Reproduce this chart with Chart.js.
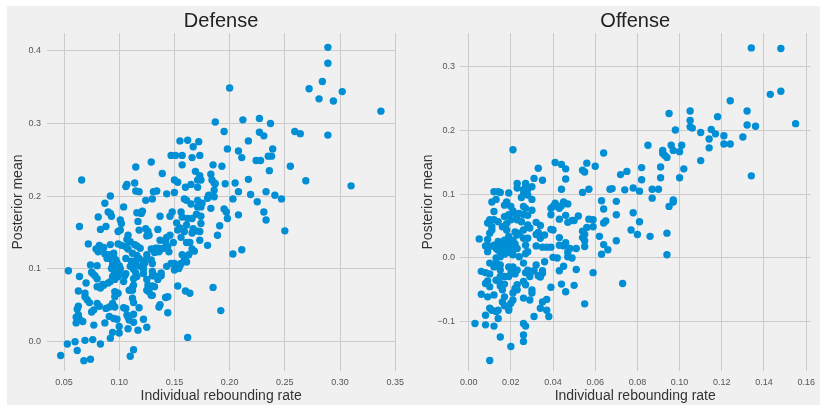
<!DOCTYPE html>
<html>
<head>
<meta charset="utf-8">
<script src="https://cdn.jsdelivr.net/npm/chart.js@4"></script>
<style>
  html, body { margin: 0; padding: 0; background: #ffffff; }
  body { width: 821px; height: 406px; position: relative; overflow: hidden; }
  #bg { position: absolute; left: 7px; top: 6px; width: 813px; height: 399px; background: #f0f0f0; }
  .panel { position: absolute; top: 0; height: 406px; }
  #leftPanel { left: 0; width: 410px; }
  #rightPanel { left: 410px; width: 411px; }
  canvas { display: block; }
</style>
</head>
<body>
<div id="bg"></div>
<div class="panel" id="leftPanel"><canvas id="defense" width="410" height="406"></canvas></div>
<div class="panel" id="rightPanel"><canvas id="offense" width="411" height="406"></canvas></div>
<script>
// Defensive rebounding: individual rate vs posterior mean, one point per player
const defenseRate = [
  0.289,0.289,0.284,0.272,0.281,0.294,0.302,0.337,0.289,0.259,
  0.264,0.255,0.269,0.310,0.247,0.250,0.200,0.187,0.212,0.227,
  0.237,0.195,0.227,0.231,0.217,0.239,0.198,0.208,0.211,0.235,
  0.238,0.224,0.228,0.236,0.193,0.217,0.205,0.186,0.196,0.208,
  0.233,0.241,0.219,0.203,0.225,0.231,0.233,0.208,0.198,0.191,
  0.189,0.203,0.211,0.185,0.192,0.162,0.155,0.172,0.167,0.147,
  0.151,0.157,0.173,0.166,0.157,0.185,0.169,0.173,0.183,0.150,
  0.153,0.171,0.174,0.184,0.187,0.165,0.160,0.171,0.186,0.150,
  0.181,0.180,0.186,0.159,0.161,0.171,0.165,0.175,0.171,0.174,
  0.183,0.195,0.197,0.156,0.148,0.170,0.174,0.157,0.166,0.162,
  0.146,0.152,0.161,0.174,0.167,0.170,0.173,0.155,0.153,0.159,
  0.166,0.146,0.156,0.149,0.161,0.164,0.173,0.180,0.166,0.168,
  0.143,0.142,0.144,0.137,0.135,0.140,0.145,0.157,0.160,0.163,
  0.159,0.161,0.156,0.150,0.147,0.143,0.155,0.154,0.150,0.153,
  0.160,0.164,0.142,0.144,0.136,0.137,0.144,0.162,0.129,0.115,
  0.139,0.114,0.107,0.106,0.115,0.118,0.131,0.134,0.143,0.124,
  0.130,0.104,0.121,0.116,0.120,0.137,0.117,0.101,0.102,0.101,
  0.099,0.118,0.124,0.126,0.125,0.127,0.135,0.108,0.107,0.110,
  0.114,0.116,0.119,0.106,0.108,0.102,0.099,0.092,0.133,0.138,
  0.129,0.136,0.132,0.112,0.116,0.125,0.118,0.122,0.124,0.129,
  0.130,0.123,0.106,0.111,0.114,0.115,0.119,0.110,0.113,0.122,
  0.115,0.122,0.130,0.138,0.138,0.130,0.132,0.135,0.125,0.113,
  0.116,0.106,0.105,0.104,0.113,0.112,0.126,0.130,0.132,0.125,
  0.127,0.109,0.112,0.129,0.130,0.112,0.113,0.104,0.106,0.118,
  0.107,0.113,0.108,0.122,0.109,0.113,0.125,0.117,0.108,0.100,
  0.100,0.113,0.110,0.066,0.092,0.087,0.090,0.092,0.093,0.081,
  0.088,0.064,0.083,0.072,0.082,0.079,0.081,0.083,0.086,0.081,
  0.087,0.091,0.095,0.095,0.089,0.097,0.074,0.080,0.094,0.098,
  0.100,0.093,0.095,0.100,0.098,0.094,0.096,0.099,0.054,0.075,
  0.076,0.078,0.080,0.064,0.090,0.092,0.085,0.080,0.083,0.086,
  0.070,0.096,0.099,0.096,0.069,0.063,0.069,0.071,0.073,0.080,
  0.082,0.094,0.091,0.096,0.063,0.062,0.077,0.075,0.088,0.063,
  0.061,0.064,0.067,0.061,0.077,0.087,0.091,0.095,0.098,0.094,
  0.092,0.069,0.076,0.060,0.053,0.083,0.062,0.047,0.068,0.074,
  0.097,0.099,0.096,0.101,0.098,0.094
];
const defenseMean = [
  0.405,0.383,0.358,0.348,0.334,0.331,0.344,0.317,0.284,0.289,
  0.286,0.241,0.221,0.214,0.196,0.152,0.349,0.302,0.305,0.307,
  0.300,0.289,0.288,0.283,0.276,0.265,0.265,0.262,0.253,0.255,
  0.255,0.249,0.249,0.235,0.241,0.223,0.218,0.218,0.217,0.206,
  0.206,0.201,0.202,0.196,0.192,0.178,0.167,0.174,0.169,0.159,
  0.146,0.120,0.126,0.074,0.042,0.277,0.276,0.275,0.268,0.256,
  0.256,0.256,0.256,0.253,0.243,0.243,0.234,0.228,0.230,0.222,
  0.219,0.222,0.222,0.222,0.217,0.216,0.212,0.212,0.208,0.205,
  0.201,0.197,0.199,0.196,0.194,0.194,0.189,0.190,0.185,0.185,
  0.183,0.182,0.178,0.178,0.178,0.175,0.172,0.171,0.169,0.169,
  0.172,0.163,0.160,0.162,0.155,0.152,0.151,0.156,0.153,0.151,
  0.149,0.146,0.143,0.136,0.136,0.136,0.139,0.132,0.127,0.124,
  0.143,0.137,0.130,0.139,0.128,0.128,0.123,0.119,0.116,0.119,
  0.111,0.109,0.107,0.107,0.107,0.103,0.104,0.100,0.098,0.076,
  0.069,0.066,0.060,0.061,0.047,0.050,0.039,0.005,0.247,0.240,
  0.231,0.218,0.216,0.213,0.207,0.206,0.206,0.207,0.203,0.194,
  0.196,0.185,0.179,0.177,0.176,0.172,0.165,0.167,0.162,0.153,
  0.151,0.153,0.155,0.151,0.145,0.146,0.154,0.146,0.140,0.137,
  0.133,0.131,0.128,0.130,0.127,0.132,0.134,0.133,0.128,0.127,
  0.127,0.123,0.122,0.121,0.118,0.119,0.114,0.109,0.112,0.112,
  0.107,0.107,0.114,0.110,0.107,0.110,0.103,0.103,0.099,0.099,
  0.094,0.093,0.096,0.094,0.090,0.090,0.090,0.085,0.085,0.086,
  0.089,0.093,0.090,0.082,0.077,0.074,0.077,0.076,0.075,0.070,
  0.068,0.070,0.070,0.063,0.063,0.059,0.053,0.046,0.045,0.046,
  0.036,0.037,0.033,0.030,0.029,0.026,0.019,0.015,0.017,0.020,
  0.011,-0.012,-0.021,0.222,0.200,0.190,0.178,0.176,0.172,0.171,
  0.158,0.158,0.154,0.134,0.132,0.127,0.128,0.130,0.129,0.123,
  0.120,0.119,0.121,0.116,0.114,0.112,0.105,0.104,0.105,0.103,
  0.104,0.100,0.098,0.097,0.092,0.089,0.085,0.089,0.097,0.095,
  0.093,0.090,0.086,0.089,0.080,0.082,0.078,0.075,0.073,0.077,
  0.080,0.068,0.066,0.061,0.066,0.069,0.061,0.057,0.053,0.052,
  0.048,0.052,0.047,0.047,0.048,0.044,0.043,0.040,0.045,0.036,
  0.033,0.030,0.027,0.025,0.022,0.025,0.034,0.031,0.030,0.012,
  0.004,0.001,0.002,-0.001,-0.004,-0.004,-0.013,-0.020,-0.027,-0.025,
  0.100,0.095,0.093,0.100,0.108,0.110
];

// Offensive rebounding: individual rate vs posterior mean, one point per player
const offenseRate = [
  0.134,0.148,0.148,0.143,0.124,0.155,0.136,0.132,0.132,0.134,
  0.130,0.121,0.121,0.124,0.118,0.115,0.117,0.114,0.114,0.110,
  0.110,0.105,0.105,0.105,0.106,0.095,0.098,0.096,0.101,0.097,
  0.100,0.092,0.092,0.093,0.094,0.102,0.100,0.091,0.091,0.085,
  0.082,0.082,0.087,0.090,0.087,0.081,0.078,0.075,0.072,0.074,
  0.068,0.067,0.070,0.070,0.078,0.081,0.077,0.080,0.086,0.097,
  0.097,0.095,0.094,0.094,0.073,0.070,0.064,0.060,0.063,0.064,
  0.064,0.065,0.062,0.064,0.063,0.066,0.059,0.055,0.056,0.054,
  0.055,0.054,0.057,0.057,0.059,0.056,0.059,0.054,0.055,0.054,
  0.055,0.055,0.052,0.050,0.051,0.051,0.050,0.041,0.044,0.046,
  0.046,0.044,0.041,0.041,0.043,0.040,0.039,0.045,0.047,0.044,
  0.039,0.043,0.046,0.047,0.049,0.039,0.040,0.043,0.043,0.045,
  0.046,0.048,0.047,0.047,0.049,0.040,0.042,0.043,0.045,0.044,
  0.046,0.039,0.037,0.035,0.039,0.033,0.031,0.035,0.030,0.030,
  0.030,0.032,0.034,0.033,0.032,0.034,0.036,0.034,0.032,0.032,
  0.031,0.033,0.034,0.035,0.035,0.036,0.035,0.034,0.037,0.037,
  0.038,0.031,0.027,0.027,0.026,0.028,0.026,0.028,0.025,0.026,
  0.027,0.024,0.026,0.028,0.023,0.025,0.028,0.029,0.026,0.024,
  0.026,0.028,0.027,0.028,0.027,0.024,0.026,0.028,0.030,0.027,
  0.029,0.026,0.027,0.030,0.030,0.026,0.029,0.023,0.026,0.027,
  0.026,0.026,0.020,0.023,0.023,0.021,0.019,0.018,0.017,0.020,
  0.021,0.022,0.019,0.020,0.017,0.018,0.016,0.018,0.022,0.023,
  0.019,0.017,0.021,0.018,0.022,0.015,0.019,0.018,0.017,0.019,
  0.020,0.017,0.015,0.021,0.023,0.014,0.013,0.014,0.012,0.010,
  0.009,0.013,0.013,0.015,0.019,0.021,0.020,0.019,0.022,0.023,
  0.017,0.015,0.015,0.017,0.023,0.022,0.021,0.016,0.017,0.016,
  0.021,0.020,0.019,0.017,0.019,0.014,0.013,0.011,0.010,0.014,
  0.012,0.008,0.015,0.003,0.010,0.008,0.012,0.014,0.015,0.013,
  0.011,0.012,0.010,0.012,0.014,0.011,0.009,0.010,0.011,0.005,
  0.009,0.008,0.010,0.012,0.006,0.008,0.010,0.009,0.008,0.010,
  0.006,0.009,0.012,0.013,0.015,0.015,
  0.018,0.020,0.016,0.019,0.021
];
const offenseMean = [
  0.330,0.329,0.262,0.257,0.247,0.211,0.207,0.231,0.209,0.129,
  0.190,0.192,0.179,0.179,0.222,0.202,0.195,0.187,0.173,0.197,
  0.153,0.231,0.216,0.206,0.204,0.227,0.201,0.177,0.177,0.169,
  0.167,0.169,0.164,0.161,0.158,0.140,0.126,0.143,0.126,0.177,
  0.142,0.123,0.108,0.108,0.094,0.105,0.110,0.136,0.131,0.107,
  0.109,0.108,0.089,0.068,0.071,0.057,0.044,0.037,0.034,0.091,
  0.088,0.081,0.039,0.005,-0.040,0.027,0.165,0.144,0.090,0.077,
  0.055,0.058,0.034,0.021,0.006,0.013,-0.023,-0.072,0.149,0.138,
  0.135,0.103,0.108,0.061,0.060,0.048,0.049,0.042,0.037,0.032,
  0.027,0.018,0.066,0.059,0.015,-0.018,-0.043,0.150,0.147,0.140,
  0.124,0.108,0.086,0.082,0.078,0.081,0.078,0.088,0.085,0.082,
  0.068,0.061,0.067,0.056,0.059,0.045,0.044,0.032,0.020,0.019,
  0.024,0.015,0.009,0.002,0.000,0.001,0.000,-0.020,-0.013,-0.041,
  -0.053,-0.046,0.017,0.017,0.017,0.141,0.125,0.122,0.112,0.092,
  0.075,0.056,0.051,0.040,0.037,0.034,0.036,0.031,0.019,-0.011,
  -0.020,-0.028,-0.030,-0.020,-0.024,-0.006,-0.069,-0.079,-0.065,-0.082,
  -0.092,-0.092,0.117,0.112,0.107,0.108,0.100,0.099,0.095,0.081,
  0.078,0.070,0.068,0.067,0.060,0.057,0.052,0.047,0.044,0.039,
  0.031,0.031,0.020,0.010,0.007,0.002,-0.008,-0.019,-0.021,-0.023,
  -0.029,-0.037,-0.042,-0.050,-0.055,-0.063,-0.066,-0.050,-0.103,-0.107,
  -0.121,-0.131,-0.139,0.117,0.110,0.170,0.102,0.088,0.083,0.081,
  0.074,0.070,0.068,0.060,0.065,0.054,0.049,0.044,0.041,0.036,
  0.034,0.028,0.028,0.023,0.022,0.020,0.018,0.015,0.012,0.010,
  0.008,0.006,0.002,0.005,0.015,0.012,0.015,0.026,0.020,0.018,
  0.010,0.000,-0.008,-0.011,-0.014,-0.014,-0.024,-0.029,-0.025,-0.019,
  -0.029,-0.040,-0.044,-0.041,-0.042,-0.048,-0.055,-0.050,-0.061,-0.069,
  -0.066,-0.071,-0.079,-0.075,-0.082,-0.082,-0.084,-0.082,-0.079,-0.095,
  -0.107,-0.105,-0.124,-0.103,-0.161,-0.090,0.104,0.104,0.103,0.092,
  0.088,0.073,0.060,0.060,0.057,0.049,0.055,0.039,0.044,0.030,
  0.029,0.019,-0.008,-0.014,-0.021,-0.023,-0.025,-0.036,-0.040,-0.045,
  -0.057,-0.061,-0.058,-0.035,-0.029,-0.019,
  0.010,0.015,0.018,0.024,0.012
];

// Tick values and their printed labels
const defenseXTicks = [0.05, 0.10, 0.15, 0.20, 0.25, 0.30, 0.35];
const defenseXLabels = ['0.05', '0.10', '0.15', '0.20', '0.25', '0.30', '0.35'];
const defenseYTicks = [0.0, 0.1, 0.2, 0.3, 0.4];
const defenseYLabels = ['0.0', '0.1', '0.2', '0.3', '0.4'];
const offenseXTicks = [0.00, 0.02, 0.04, 0.06, 0.08, 0.10, 0.12, 0.14, 0.16];
const offenseXLabels = ['0.00', '0.02', '0.04', '0.06', '0.08', '0.10', '0.12', '0.14', '0.16'];
const offenseYTicks = [-0.1, 0.0, 0.1, 0.2, 0.3];
const offenseYLabels = ['\u22120.1', '0.0', '0.1', '0.2', '0.3'];

const FONT = '"Liberation Sans", Arial, Helvetica, sans-serif';
const DOT = '#008fd5';
const GRID = '#cbcbcb';
const TICK_COLOR = '#555555';
const LABEL_COLOR = '#333333';

Chart.defaults.font.family = FONT;

// Panel heading centred over the plotting area
const panelTitle = {
  id: 'panelTitle',
  afterDraw(chart, args, opts) {
    const { ctx, chartArea } = chart;
    ctx.save();
    ctx.font = '20px ' + FONT;
    ctx.fillStyle = '#222222';
    ctx.textAlign = 'center';
    ctx.textBaseline = 'alphabetic';
    ctx.fillText(opts.text, (chartArea.left + chartArea.right) / 2, 26.5);
    ctx.restore();
  }
};

function scatterPanel(canvasId, p) {
  return new Chart(document.getElementById(canvasId), {
    type: 'scatter',
    data: {
      datasets: [{
        data: p.x.map((v, i) => ({ x: v, y: p.y[i] })),
        backgroundColor: DOT,
        borderWidth: 0,
        pointRadius: 3.7,
        pointHoverRadius: 3.7
      }]
    },
    options: {
      responsive: false,
      animation: false,
      events: [],
      layout: { padding: { top: 33, right: p.padRight, left: 0, bottom: 0 } },
      plugins: {
        legend: { display: false },
        tooltip: { enabled: false },
        panelTitle: { text: p.title }
      },
      scales: {
        x: {
          type: 'linear',
          min: p.xMin, max: p.xMax,
          border: { display: false },
          grid: { color: GRID, lineWidth: 1, drawTicks: false },
          ticks: {
            padding: 6, color: TICK_COLOR, font: { size: 9 },
            autoSkip: false, maxRotation: 0,
            callback: (v, i) => p.xLabels[i]
          },
          afterBuildTicks: s => { s.ticks = p.xTicks.map(v => ({ value: v })); },
          afterFit: s => { s.height = 35; },
          title: {
            display: true, text: 'Individual rebounding rate',
            color: LABEL_COLOR, font: { size: 14 },
            padding: { top: 0, bottom: 1 }
          }
        },
        y: {
          type: 'linear',
          min: p.yMin, max: p.yMax,
          border: { display: false },
          grid: { color: GRID, lineWidth: 1, drawTicks: false },
          ticks: {
            padding: p.yPad, color: TICK_COLOR, font: { size: 9 },
            autoSkip: false,
            callback: (v, i) => p.yLabels[i]
          },
          afterBuildTicks: s => { s.ticks = p.yTicks.map(v => ({ value: v })); },
          afterFit: s => { s.width = p.yWidth; },
          title: {
            display: true, text: 'Posterior mean',
            color: LABEL_COLOR, font: { size: 14 },
            padding: { top: 10, bottom: 0 }
          }
        }
      }
    },
    plugins: [panelTitle]
  });
}

scatterPanel('defense', {
  title: 'Defense',
  x: defenseRate, y: defenseMean,
  xTicks: defenseXTicks, xLabels: defenseXLabels,
  yTicks: defenseYTicks, yLabels: defenseYLabels,
  xMin: 0.0346, xMax: 0.350, yMin: -0.0413, yMax: 0.4248,
  yWidth: 47, yPad: 6, padRight: 10
});

scatterPanel('offense', {
  title: 'Offense',
  x: offenseRate, y: offenseMean,
  xTicks: offenseXTicks, xLabels: offenseXLabels,
  yTicks: offenseYTicks, yLabels: offenseYLabels,
  xMin: -0.0041, xMax: 0.162, yMin: -0.1775, yMax: 0.3534,
  yWidth: 50, yPad: 5, padRight: 6
});
</script>
</body>
</html>
